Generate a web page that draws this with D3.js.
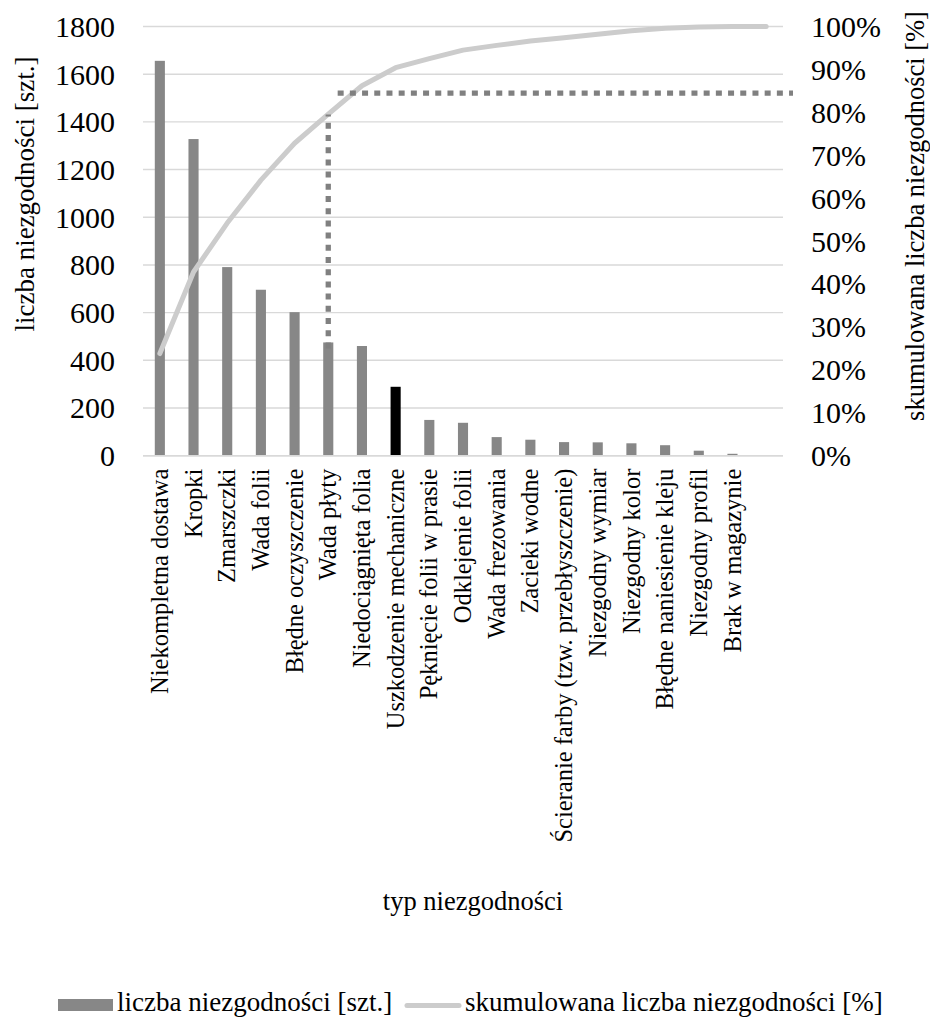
<!DOCTYPE html>
<html>
<head>
<meta charset="utf-8">
<script src="https://cdn.jsdelivr.net/npm/d3@7/dist/d3.min.js"></script>
<style>
  html, body { margin: 0; padding: 0; background: #fff; }
  svg text { font-family: "Liberation Serif", Tinos, "Times New Roman", Times, "DejaVu Serif", serif; fill: #000; }
</style>
</head>
<body>
<svg id="chart" width="930" height="1020"></svg>
<script>
// Nonconformity types, in Pareto order (last slot has no label)
const categories = [
  "Niekompletna dostawa", "Kropki", "Zmarszczki", "Wada folii",
  "Błędne oczyszczenie", "Wada płyty", "Niedociągnięta folia",
  "Uszkodzenie mechaniczne", "Pęknięcie folii w prasie", "Odklejenie folii",
  "Wada frezowania", "Zacieki wodne", "Ścieranie farby (tzw. przebłyszczenie)",
  "Niezgodny wymiar", "Niezgodny kolor", "Błędne naniesienie kleju",
  "Niezgodny profil", "Brak w magazynie", ""
];
// Number of nonconformities per type [szt.]
const counts = [1656, 1328, 791, 696, 602, 475, 460, 289, 150, 138, 78, 67, 57, 56, 52, 44, 21, 8, 0];
// Cumulative share of nonconformities [%]
const cumulative = [23.8, 42.8, 54.2, 64.2, 72.8, 79.6, 86.2, 90.4, 92.5, 94.5, 95.6, 96.6, 97.4, 98.2, 99.0, 99.6, 99.9, 100, 100];
// Highlighted type
const highlighted = "Uszkodzenie mechaniczne";
// Pareto cut-off marker
const cutCategory = "Wada płyty";
const cutFromCount = 450;
const cutToPercent = 79.5;
const cutLevelPercent = 84.5;

const leftTicks = [0, 200, 400, 600, 800, 1000, 1200, 1400, 1600, 1800];
const rightTicks = [0, 10, 20, 30, 40, 50, 60, 70, 80, 90, 100];

const xLabel = "typ niezgodności";
const yLabel = "liczba niezgodności [szt.]";
const y2Label = "skumulowana liczba niezgodności [%]";

const svg = d3.select("#chart");
const plot = { left: 143, right: 783, top: 26.5, bottom: 455.7 };

const x = d3.scaleBand()
  .domain(d3.range(categories.length))
  .range([plot.left, plot.right])
  .paddingInner(0.7)
  .paddingOuter(0.35);
const step = x.step();
const cx = i => plot.left + step * (i + 0.5);

const y = d3.scaleLinear().domain([0, 1800]).range([plot.bottom, plot.top]);
const y2 = d3.scaleLinear().domain([0, 100]).range([plot.bottom, plot.top]);

// Gridlines
svg.append("g")
  .selectAll("line")
  .data(leftTicks)
  .join("line")
  .attr("x1", plot.left).attr("x2", plot.right)
  .attr("y1", d => y(d)).attr("y2", d => y(d))
  .attr("stroke", "#d9d9d9")
  .attr("stroke-width", 1.4);

// Left axis
const yAxis = d3.axisLeft(y).tickValues(leftTicks).tickSize(0).tickPadding(0).tickFormat(d3.format("d"));
const gy = svg.append("g").attr("transform", "translate(115,0)").call(yAxis);
gy.select(".domain").remove();
gy.selectAll("text").attr("font-size", 30).attr("dy", "0.33em");

// Right axis
const y2Axis = d3.axisRight(y2).tickValues(rightTicks).tickSize(0).tickPadding(0).tickFormat(d => d + "%");
const gy2 = svg.append("g").attr("transform", "translate(811,0)").call(y2Axis);
gy2.select(".domain").remove();
gy2.selectAll("text").attr("font-size", 30).attr("dy", "0.33em");

// Bars
svg.append("g")
  .selectAll("rect")
  .data(counts)
  .join("rect")
  .attr("x", (d, i) => x(i))
  .attr("width", x.bandwidth())
  .attr("y", d => y(d))
  .attr("height", d => y(0) - y(d))
  .attr("fill", (d, i) => categories[i] === highlighted ? "#000000" : "#878787");

// Category labels
const gx = svg.append("g").attr("transform", `translate(0,${plot.bottom})`)
  .call(d3.axisBottom(x).tickSize(0).tickPadding(0).tickFormat(i => categories[i]));
gx.select(".domain").remove();
gx.selectAll(".tick text")
  .attr("font-size", 24.5)
  .attr("text-anchor", "end")
  .attr("transform", "translate(0,13) rotate(-90)")
  .attr("x", 0).attr("y", 0).attr("dy", "0.33em");

// Category axis line
svg.append("line")
  .attr("x1", plot.left).attr("x2", plot.right)
  .attr("y1", y(0)).attr("y2", y(0))
  .attr("stroke", "#d9d9d9").attr("stroke-width", 1.6);

// Cumulative line
const line = d3.line().x((d, i) => cx(i)).y(d => y2(d));
svg.append("path")
  .datum(cumulative)
  .attr("d", line)
  .attr("fill", "none")
  .attr("stroke", "#cccccc")
  .attr("stroke-width", 5)
  .attr("stroke-linejoin", "round")
  .attr("stroke-linecap", "round");

// Pareto cut-off marker
const ci = categories.indexOf(cutCategory);
const dotted = { stroke: "#808080", "stroke-width": 5.3, "stroke-dasharray": "6,6.2" };
const vLine = svg.append("line")
  .attr("x1", cx(ci)).attr("x2", cx(ci))
  .attr("y1", y(cutFromCount)).attr("y2", y2(cutToPercent));
const hLine = svg.append("line")
  .attr("x1", cx(ci) + 9.4).attr("x2", plot.right + 10)
  .attr("y1", y2(cutLevelPercent)).attr("y2", y2(cutLevelPercent));
[vLine, hLine].forEach(l => Object.entries(dotted).forEach(([k, v]) => l.attr(k, v)));

// Axis titles
svg.append("text")
  .attr("transform", "translate(25,194) rotate(-90)")
  .attr("text-anchor", "middle").attr("dy", "0.33em")
  .attr("font-size", 27).text(yLabel);
svg.append("text")
  .attr("transform", "translate(915,216) rotate(-90)")
  .attr("text-anchor", "middle").attr("dy", "0.33em")
  .attr("font-size", 26.5).text(y2Label);
svg.append("text")
  .attr("x", 473).attr("y", 910)
  .attr("text-anchor", "middle")
  .attr("font-size", 26.5).text(xLabel);

// Legend
const legend = svg.append("g");
legend.append("rect")
  .attr("x", 58).attr("y", 999).attr("width", 55).attr("height", 12)
  .attr("fill", "#878787");
legend.append("text")
  .attr("x", 117).attr("y", 1011)
  .attr("font-size", 27).text(yLabel);
legend.append("line")
  .attr("x1", 407).attr("x2", 459).attr("y1", 1005.5).attr("y2", 1005.5)
  .attr("stroke", "#cccccc").attr("stroke-width", 5).attr("stroke-linecap", "round");
legend.append("text")
  .attr("x", 465).attr("y", 1011)
  .attr("font-size", 27).text(y2Label);
</script>
</body>
</html>
